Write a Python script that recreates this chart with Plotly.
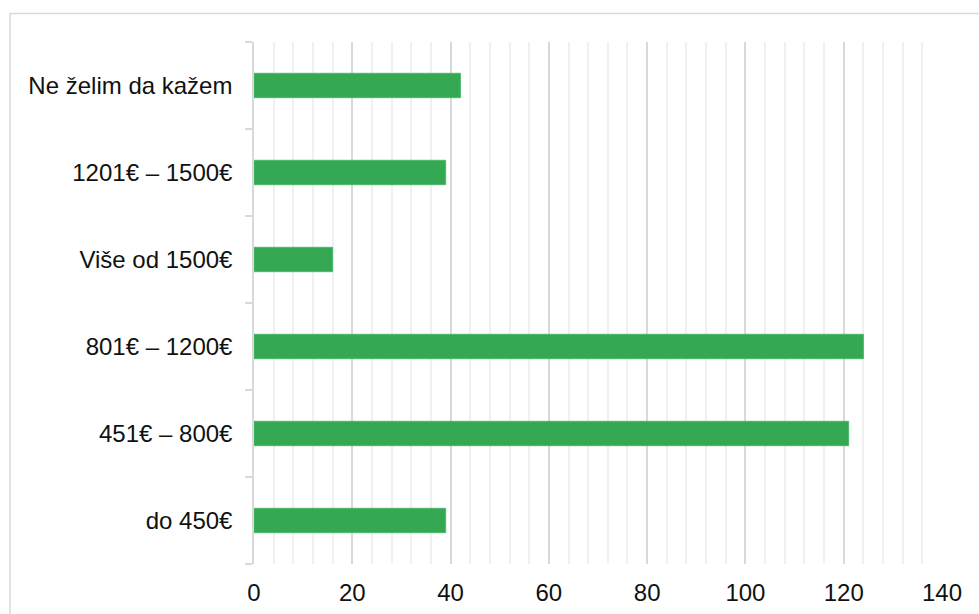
import plotly.graph_objects as go

# Monthly income categories (bottom to top) and respondent counts
categories = ["do 450€", "451€ – 800€", "801€ – 1200€", "Više od 1500€", "1201€ – 1500€", "Ne želim da kažem"]
counts = [39, 121, 124, 16, 39, 42]
x_ticks = [0, 20, 40, 60, 80, 100, 120, 140]

BAR_COLOR = "#34A853"
GRID_MAJOR = "#d9d9d9"
GRID_MINOR = "#f0f0f0"
FONT = "Liberation Sans, Arial, sans-serif"

fig = go.Figure(
    go.Bar(
        y=categories,
        x=counts,
        orientation="h",
        marker=dict(color=BAR_COLOR, line=dict(color="#4cb86a", width=1)),
        width=0.28,
        hoverinfo="x+y",
    )
)

fig.update_layout(
    width=979,
    height=614,
    margin=dict(l=254, r=37, t=42, b=50, autoexpand=False),
    paper_bgcolor="white",
    plot_bgcolor="white",
    showlegend=False,
    font=dict(family=FONT, size=24, color="#111111"),
    xaxis=dict(
        range=[0, 140],
        tickvals=x_ticks,
        ticktext=[str(v) for v in x_ticks],
        showgrid=True,
        gridcolor=GRID_MAJOR,
        gridwidth=1.5,
        zeroline=False,
        showline=False,
        ticks="",
        ticklabelstandoff=12,
        automargin=False,
        minor=dict(dtick=4, showgrid=True, gridcolor=GRID_MINOR, gridwidth=1.5),
        fixedrange=True,
    ),
    yaxis=dict(
        categoryorder="array",
        categoryarray=categories,
        showgrid=False,
        zeroline=False,
        showline=True,
        linecolor=GRID_MAJOR,
        linewidth=1.5,
        ticks="outside",
        tickson="boundaries",
        ticklen=7,
        tickcolor=GRID_MAJOR,
        tickwidth=1.5,
        ticklabelstandoff=15,
        automargin=False,
        fixedrange=True,
    ),
    shapes=[
        dict(
            type="rect",
            xref="paper",
            yref="paper",
            x0=(10 - 254) / 688,
            x1=(990 - 254) / 688,
            y0=(564 - 630) / 522,
            y1=(564 - 13.5) / 522,
            line=dict(color=GRID_MAJOR, width=1.5),
            fillcolor="rgba(0,0,0,0)",
            layer="below",
        )
    ],
)

fig.write_html("out.html")
